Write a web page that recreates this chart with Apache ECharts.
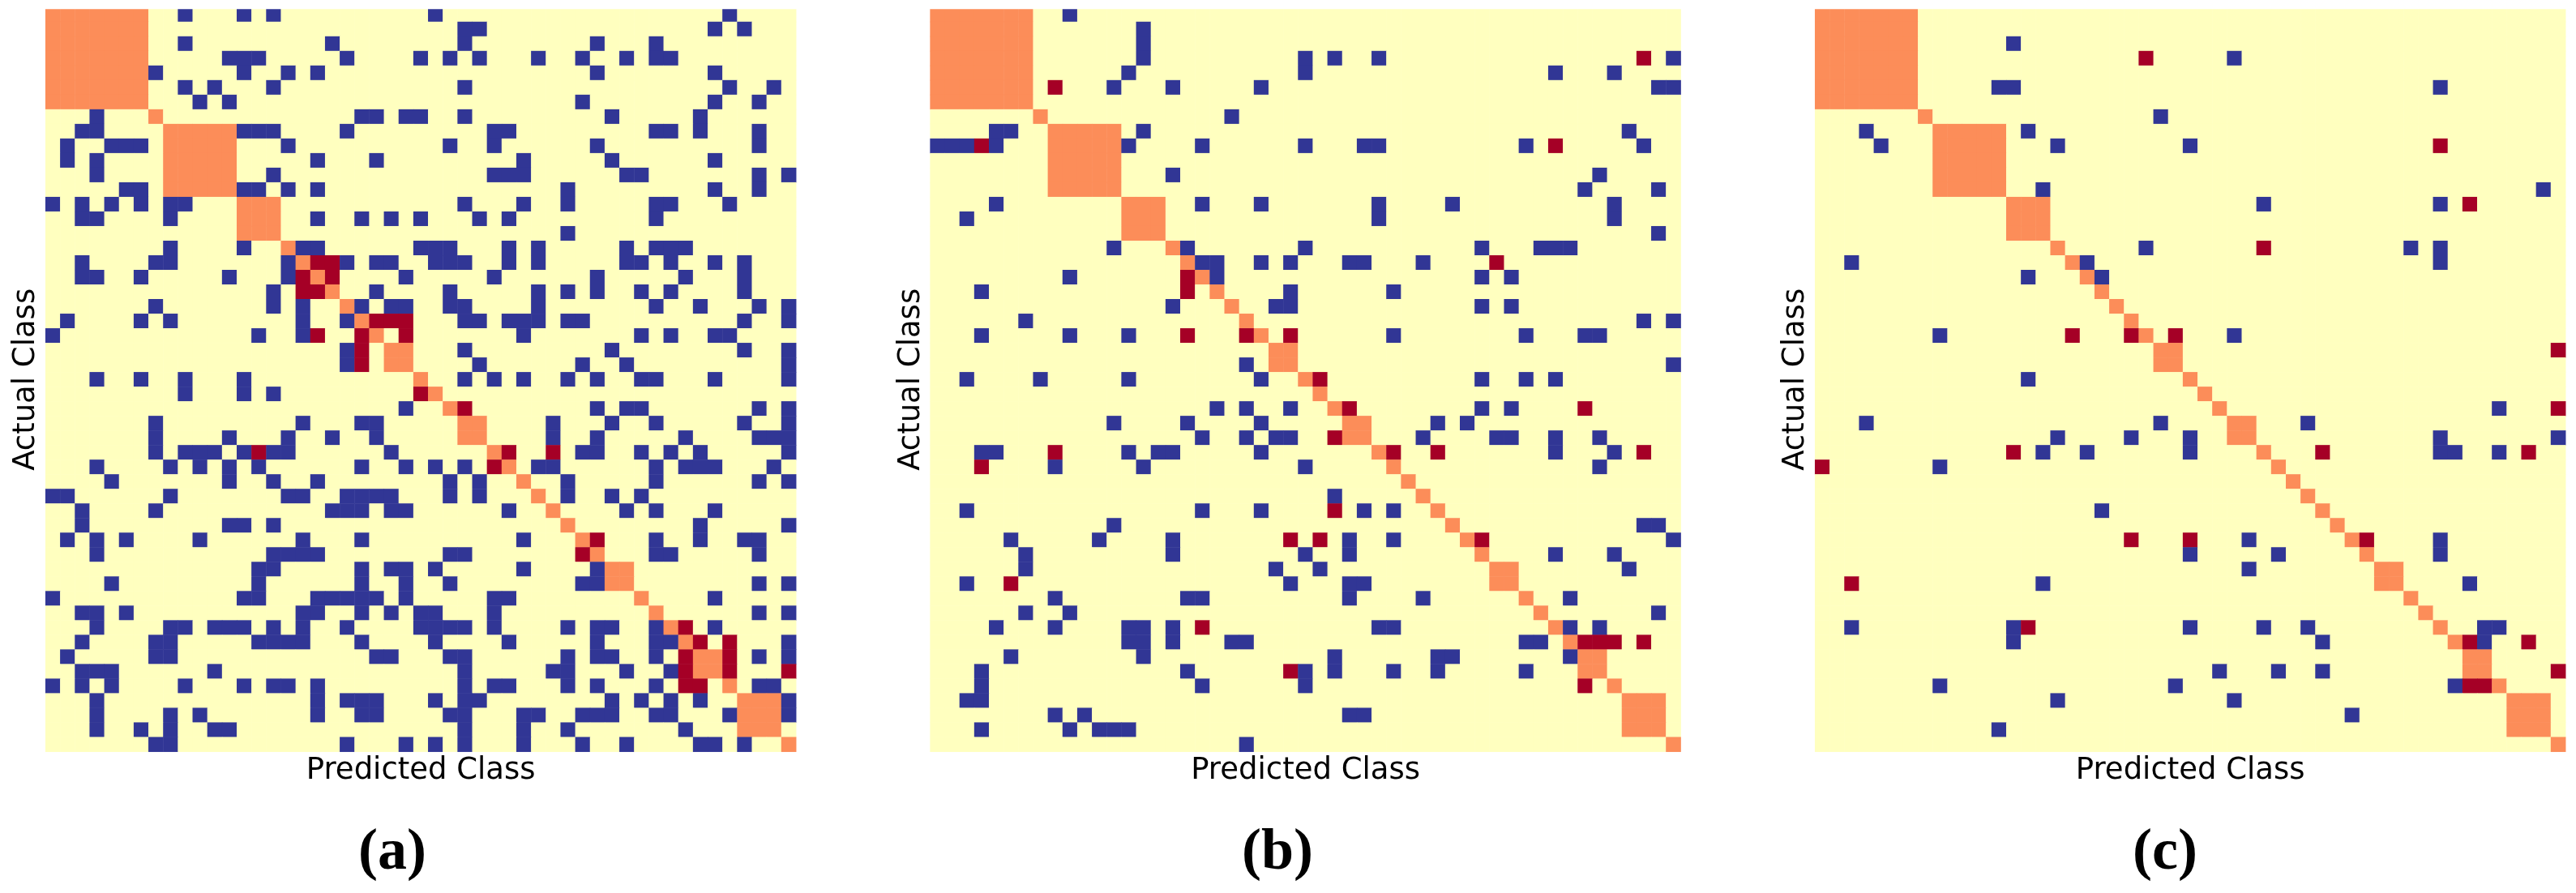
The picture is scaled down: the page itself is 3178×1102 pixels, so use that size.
<!DOCTYPE html>
<html>
<head>
    <meta charset="utf-8" />
    <title>Confusion matrices</title>
    <script type="text/javascript" src="https://cdn.jsdelivr.net/npm/echarts@6/dist/echarts.min.js"></script>
    <style>
        html, body { margin: 0; padding: 0; background: #fff; }
        #con1 { width: 3178px; height: 1102px; }
    </style>
</head>
<body>
    <div id="con1"></div>
    <script type="text/javascript">
        // block [first class, size] on the diagonal, shared by all three matrices
        var classBlocks = [[0,7],[7,1],[8,5],[13,3],[16,1],[17,1],[18,1],[19,1],[20,1],[21,1],[22,1],[23,2],[25,1],[26,1],[27,1],
            [28,2],[30,1],[31,1],[32,1],[33,1],[34,1],[35,1],[36,1],[37,1],[38,2],[40,1],[41,1],[42,1],[43,1],[44,2],[46,1],[47,3],[50,1]];

        // blue cells: columns per row
        var aBlue = [
            [9,13,15,26,46],
            [28,29,45,47],
            [9,19,28,37,41],
            [12,13,14,20,25,27,29,33,36,39,41,42],
            [7,13,16,18,37,45],
            [9,11,15,28,46,49],
            [10,12,36,45,48],
            [3,21,22,24,25,28,38,44],
            [2,3,13,14,15,20,30,31,41,42,44,48],
            [1,4,5,6,16,27,30,37,48],
            [1,3,18,22,32,38,45],
            [3,15,30,31,32,39,40,48,50],
            [5,6,13,14,16,18,35,45,48],
            [0,2,4,6,8,9,28,32,35,41,42,46],
            [2,3,8,18,21,23,25,29,31,41],
            [35],
            [8,13,17,18,25,26,27,31,33,39,41,42,43],
            [2,7,8,16,20,22,23,26,27,28,31,33,39,40,42,45,47],
            [2,3,6,12,16,24,30,37,43,47],
            [15,22,27,33,35,37,40,42,47],
            [7,15,17,21,23,24,27,28,33,41,44,48,50],
            [1,6,8,17,20,28,29,31,32,33,35,36,47,50],
            [0,14,17,32,40,42,45,46],
            [20,28,38,47,50],
            [20,29,36,39,50],
            [3,6,9,13,28,30,32,35,37,40,41,45,50],
            [9,13,15],
            [24,37,39,40,48,50],
            [7,17,21,22,34,38,41,47,50],
            [7,12,16,19,22,34,37,43,48,49,50],
            [7,9,10,11,13,15,16,23,36,37,40,42,44,50],
            [3,8,10,12,14,21,24,26,28,33,34,41,43,44,45,49],
            [4,12,15,18,27,29,35,41,48,50],
            [0,1,8,16,17,20,21,22,23,27,29,35,38,40],
            [2,7,19,20,21,23,24,31,39,41,45],
            [2,12,13,15,44,50],
            [1,3,5,10,17,21,32,41,44,47,48],
            [3,15,16,17,18,27,28,41,42,48],
            [14,15,21,23,24,26,32,37],
            [4,14,21,24,27,36,37,48,50],
            [0,13,14,18,19,20,21,22,24,30,31,45],
            [2,3,5,17,18,21,23,25,26,30,48,50],
            [3,8,9,11,12,13,15,17,20,25,26,27,28,30,35,37,38,41,45],
            [2,7,8,14,15,16,17,21,26,31,37,41,42,50],
            [1,7,8,22,23,27,28,35,37,38,41,48,50],
            [2,3,4,11,28,34,35,39,42],
            [0,2,4,9,13,15,16,18,28,30,31,35,37,41,48,49],
            [3,18,20,21,22,26,28,29,38,40,42,44,50],
            [3,8,10,18,21,22,27,28,32,33,36,37,38,41,42,46,50],
            [3,6,8,11,12,28,32,35,43],
            [7,8,20,24,26,28,32,36,39,44,45,47]
        ];
        // red cells: [row, column]
        var aRed = [[17,18],[17,19],[18,17],[18,19],[19,17],[19,18],[21,22],[21,23],[21,24],[22,18],[22,21],[22,24],[23,21],[24,21],
            [26,25],[27,28],[30,14],[30,31],[30,34],[31,30],[36,37],[37,36],[42,43],[43,44],[43,46],[44,43],[44,46],[45,43],[45,46],[45,50],[46,43],[46,44]];

        var bBlue = [
            [9],
            [14],
            [14],
            [14,25,27,30,50],
            [13,25,42,46],
            [12,16,22,49,50],
            [],
            [20],
            [4,5,14,47],
            [0,1,2,4,13,18,25,29,30,40,48],
            [],
            [16,45],
            [44,49],
            [4,18,22,30,35,46],
            [2,30,46],
            [49],
            [12,17,25,37,41,42,43],
            [18,19,22,24,28,29,33],
            [9,19,37,39],
            [3,24,31],
            [16,23,24,37,39],
            [6,48,50],
            [3,9,13,31,40,44,45],
            [],
            [21,50],
            [2,7,13,22,37,40,42],
            [],
            [19,21,24,37,39],
            [12,17,22,34,36],
            [18,21,23,24,33,38,39,42,45],
            [3,4,13,15,16,22,42,46],
            [8,14,25,45],
            [],
            [27],
            [2,18,22,29,31],
            [12,48,49],
            [5,11,16,28,31,50],
            [6,16,25,28,42,46],
            [6,23,26,47],
            [2,24,28,29],
            [8,17,18,28,33,43],
            [6,9,49],
            [4,8,13,14,16,30,31,43,45],
            [13,14,16,20,21,40,41],
            [5,14,27,34,35,43],
            [3,17,25,27,31,34,40],
            [3,18,25],
            [2,3],
            [8,10,28,29],
            [3,9,11,12,13],
            [21]
        ];
        var bRed = [[3,48],[5,8],[9,3],[9,42],[17,38],[18,17],[19,17],[22,17],[22,21],[22,24],[25,26],[27,28],[27,44],[29,27],
            [30,8],[30,31],[30,34],[30,48],[31,3],[34,27],[36,24],[36,26],[36,37],[39,5],[42,18],[43,44],[43,45],[43,46],[43,48],[45,24],[46,44]];

        var cBlue = [
            [],
            [],
            [13],
            [28],
            [],
            [12,13,42],
            [],
            [23],
            [3,14],
            [4,16,25],
            [],
            [],
            [15,49],
            [30,42],
            [],
            [],
            [22,40,42],
            [2,18,42],
            [14,19],
            [],
            [],
            [],
            [8,28],
            [],
            [],
            [14],
            [],
            [46],
            [3,23,33],
            [16,21,25,42,50],
            [15,18,25,42,43,46],
            [8],
            [],
            [],
            [19],
            [],
            [29,42],
            [25,31,42],
            [29],
            [15,44],
            [],
            [],
            [2,13,25,30,33,45,46],
            [13,34,45],
            [],
            [27,31,34],
            [8,24,43],
            [16,28],
            [36],
            [12],
            []
        ];
        var cRed = [[3,22],[9,42],[13,44],[16,30],[22,17],[22,21],[22,24],[23,50],[27,50],[30,13],[30,34],[30,48],[31,0],
            [36,21],[36,25],[36,37],[39,2],[42,14],[43,44],[43,48],[45,50],[46,44],[46,45]];

        var panelLabels = ["a", "b", "c"];
        var xAxisName = "Predicted Class";
        var yAxisName = "Actual Class";

        var panelLefts = [56.2, 1147.6, 2239.2];
        var labelLefts = [437, 1527, 2626];
        var panelWidth = 926;
        var n = 51;
        var cats = [];
        for (var i = 0; i < n; i++) cats.push(String(i));

        // 0 background, 1 diagonal block, 2 blue, 3 red
        function buildCells(blue, red) {
            var grid = [];
            for (var r = 0; r < n; r++) {
                grid.push([]);
                for (var c = 0; c < n; c++) grid[r].push(0);
            }
            classBlocks.forEach(function (b) {
                for (var r = b[0]; r < b[0] + b[1]; r++) {
                    for (var c = b[0]; c < b[0] + b[1]; c++) grid[r][c] = 1;
                }
            });
            blue.forEach(function (cols, r) {
                cols.forEach(function (c) { grid[r][c] = 2; });
            });
            red.forEach(function (p) { grid[p[0]][p[1]] = 3; });
            var out = [];
            for (var r2 = 0; r2 < n; r2++) {
                for (var c2 = 0; c2 < n; c2++) out.push([c2, r2, grid[r2][c2]]);
            }
            return out;
        }

        var cells = [buildCells(aBlue, aRed), buildCells(bBlue, bRed), buildCells(cBlue, cRed)];

        var option = {
            backgroundColor: "#fff",
            animation: false,
            title: [],
            grid: [],
            xAxis: [],
            yAxis: [],
            series: [],
            visualMap: {
                show: false,
                type: "piecewise",
                dimension: 2,
                pieces: [
                    { value: 0, color: "#ffffbf" },
                    { value: 1, color: "#fc8d59" },
                    { value: 2, color: "#313695" },
                    { value: 3, color: "#a50026" }
                ]
            },
            // the first row of each matrix is cut a little short at the top
            graphic: [{
                type: "rect",
                z: 100,
                shape: { x: 0, y: 0, width: 3178, height: 11.3 },
                style: { fill: "#fff" }
            }]
        };

        panelLabels.forEach(function (label, i) {
            option.grid.push({ left: panelLefts[i], top: 9, width: panelWidth, height: 918.7 });
            option.xAxis.push({
                type: "category", gridIndex: i, data: cats,
                axisLine: { show: false }, axisTick: { show: false }, axisLabel: { show: false }, splitLine: { show: false },
                name: xAxisName, nameLocation: "middle", nameGap: 5,
                nameTextStyle: { fontFamily: "DejaVu Sans", fontSize: 37, color: "#000", verticalAlign: "top" }
            });
            option.yAxis.push({
                type: "category", gridIndex: i, data: cats, inverse: true,
                axisLine: { show: false }, axisTick: { show: false }, axisLabel: { show: false }, splitLine: { show: false },
                name: yAxisName, nameLocation: "middle", nameGap: 5, nameRotate: 90,
                nameTextStyle: { fontFamily: "DejaVu Sans", fontSize: 37, color: "#000" }
            });
            option.series.push({
                type: "heatmap",
                xAxisIndex: i,
                yAxisIndex: i,
                data: cells[i],
                progressive: 0,
                itemStyle: { borderWidth: 0 }
            });
            option.title.push({
                text: "{p|(}{b|" + label + "}{p|)}",
                left: labelLefts[i],
                top: 1012,
                textStyle: {
                    rich: {
                        p: { fontFamily: "Liberation Serif", fontSize: 72, color: "#000" },
                        b: { fontFamily: "Liberation Serif", fontSize: 72, fontWeight: "bold", color: "#000" }
                    }
                }
            });
        });

        var myChart1 = echarts.init(document.getElementById("con1"));
        myChart1.setOption(option);
    </script>
</body>
</html>
